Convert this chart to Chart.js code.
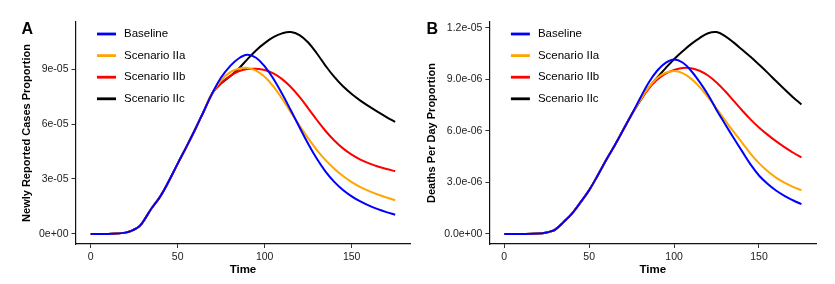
<!DOCTYPE html>
<html>
<head>
<meta charset="utf-8">
<script src="https://cdn.jsdelivr.net/npm/chart.js@4"></script>
<style>
  html, body { margin: 0; padding: 0; background: #fff; }
  #wrap { position: relative; width: 835px; height: 284px; }
  canvas { position: absolute; top: 0; }
  #cA { left: 0; }
  #cB { left: 415px; }
</style>
</head>
<body>
<div id="wrap">
  <canvas id="cA" width="415" height="284"></canvas>
  <canvas id="cB" width="420" height="284"></canvas>
</div>
<script>
const times = [0, 10, 20, 25, 28, 30, 35, 40, 45, 50, 55, 60, 65, 70, 75, 80, 85, 90, 95, 100,
               105, 110, 115, 120, 125, 130, 135, 140, 145, 150, 155, 160, 165, 170, 175];

// panel A: newly reported cases proportion, in units of 1e-5
const casesBaseline = [0, 0, 0.07, 0.24, 0.42, 0.65, 1.4, 2.05, 2.9, 3.84, 4.75, 5.7, 6.7, 7.7,
  8.55, 9.15, 9.58, 9.78, 9.62, 9.15, 8.47, 7.65, 6.75, 5.82, 4.92, 4.1, 3.4, 2.84, 2.4, 2.05, 1.77, 1.54, 1.35, 1.19, 1.05];
const casesIIa = [0, 0, 0.07, 0.24, 0.42, 0.65, 1.4, 2.05, 2.9, 3.84, 4.75, 5.7, 6.7, 7.7,
  8.4, 8.82, 9.02, 9.06, 8.92, 8.58, 8.05, 7.38, 6.65, 5.92, 5.22, 4.58, 4.03, 3.56, 3.16, 2.83, 2.56, 2.34, 2.15, 1.99, 1.84];
const casesIIb = [0, 0, 0.07, 0.24, 0.42, 0.65, 1.4, 2.05, 2.9, 3.84, 4.75, 5.7, 6.7, 7.7,
  8.25, 8.62, 8.88, 9.0, 9.02, 8.95, 8.76, 8.45, 8.02, 7.48, 6.86, 6.22, 5.62, 5.1, 4.67, 4.33, 4.06, 3.85, 3.68, 3.54, 3.43];
const casesIIc = [0, 0, 0.07, 0.24, 0.42, 0.65, 1.4, 2.05, 2.9, 3.84, 4.75, 5.7, 6.7, 7.7,
  8.22, 8.6, 9.02, 9.53, 10.02, 10.42, 10.74, 10.95, 11.02, 10.86, 10.45, 9.85, 9.18, 8.57, 8.06, 7.64, 7.28, 6.96, 6.66, 6.38, 6.12];

// panel B: deaths per day proportion, in units of 1e-6
const deathsBaseline = [0, 0, 0.02, 0.08, 0.17, 0.25, 0.7, 1.2, 1.85, 2.55, 3.4, 4.3, 5.15, 6.05, 6.95,
  7.9, 8.8, 9.5, 9.96, 10.15, 9.98, 9.5, 8.85, 8.1, 7.22, 6.4, 5.6, 4.82, 4.05, 3.4, 2.92, 2.53, 2.22, 1.96, 1.73];
const deathsIIa = [0, 0, 0.02, 0.08, 0.17, 0.25, 0.7, 1.2, 1.85, 2.55, 3.4, 4.3, 5.15, 6.05, 6.95,
  7.78, 8.52, 9.08, 9.38, 9.48, 9.36, 9.04, 8.56, 7.96, 7.3, 6.62, 5.95, 5.32, 4.68, 4.12, 3.66, 3.28, 2.98, 2.74, 2.55];
const deathsIIb = [0, 0, 0.02, 0.08, 0.17, 0.25, 0.7, 1.2, 1.85, 2.55, 3.4, 4.3, 5.15, 6.05, 6.95,
  7.75, 8.45, 8.98, 9.33, 9.55, 9.66, 9.65, 9.5, 9.22, 8.82, 8.32, 7.76, 7.2, 6.67, 6.2, 5.78, 5.4, 5.05, 4.74, 4.45];
const deathsIIc = [0, 0, 0.02, 0.08, 0.17, 0.25, 0.7, 1.2, 1.85, 2.55, 3.4, 4.3, 5.15, 6.05, 6.95,
  7.75, 8.5, 9.1, 9.65, 10.17, 10.63, 11.05, 11.4, 11.68, 11.75, 11.52, 11.15, 10.73, 10.31, 9.86, 9.39, 8.9, 8.42, 7.96, 7.54];

const seriesNames = ['Baseline', 'Scenario IIa', 'Scenario IIb', 'Scenario IIc'];
const seriesColors = ['#0000ff', '#ffa500', '#ff0000', '#000000'];

const xTicks = [0, 50, 100, 150];
const yTicksA = [0, 3e-5, 6e-5, 9e-5];
const yLabelsA = ['0e+00', '3e-05', '6e-05', '9e-05'];
const yTicksB = [0, 3e-6, 6e-6, 9e-6, 1.2e-5];
const yLabelsB = ['0.0e+00', '3.0e-06', '6.0e-06', '9.0e-06', '1.2e-05'];

const FONT = '"Liberation Sans", Arial, Helvetica, sans-serif';

// legend drawn inside the panel, plus the panel letter
const insideLegend = {
  id: 'insideLegend',
  afterDraw(chart, args, opts) {
    const ctx = chart.ctx, area = chart.chartArea;
    ctx.save();
    ctx.font = '11.5px ' + FONT;
    ctx.textBaseline = 'middle';
    chart.data.datasets.forEach((ds, i) => {
      const y = 34 + i * 21.6;
      const x0 = area.left + opts.offset;
      ctx.strokeStyle = ds.borderColor;
      ctx.lineWidth = 2.8;
      ctx.beginPath();
      ctx.moveTo(x0, y);
      ctx.lineTo(x0 + 19, y);
      ctx.stroke();
      ctx.fillStyle = '#000';
      ctx.fillText(ds.label, x0 + 27, y);
    });
    ctx.font = 'bold 16px ' + FONT;
    ctx.textBaseline = 'alphabetic';
    ctx.fillText(opts.letter, opts.letterX, 33.5);
    ctx.restore();
  }
};

function makeChart(id, seriesList, unit, yTicks, yLabels, yTitle, cfg) {
  const ymax = Math.max(...seriesList.flat()) * unit;
  const datasets = seriesList.map((arr, i) => ({
    label: seriesNames[i],
    data: times.map((t, j) => ({ x: t, y: arr[j] * unit })),
    borderColor: seriesColors[i],
    borderWidth: 2,
    pointRadius: 0,
    tension: 0.4,
    fill: false
  }));
  return new Chart(document.getElementById(id), {
    type: 'line',
    data: { datasets },
    plugins: [insideLegend],
    options: {
      responsive: false,
      animation: false,
      layout: { padding: { top: 22, right: cfg.padRight, left: 0, bottom: 0 } },
      plugins: {
        legend: { display: false },
        tooltip: { enabled: false },
        insideLegend: { offset: 21.5, letter: cfg.letter, letterX: cfg.letterX }
      },
      scales: {
        x: {
          type: 'linear',
          min: -8.75,
          max: 183.75,
          afterBuildTicks: s => { s.ticks = xTicks.map(v => ({ value: v })); },
          afterFit: s => { s.height = 40; },
          border: { display: true, color: '#111', width: 1.2 },
          grid: { drawOnChartArea: false, drawTicks: true, tickLength: 4, color: '#333' },
          ticks: { padding: 3, color: '#222', font: { family: FONT, size: 10.5 }, maxRotation: 0 },
          title: { display: true, text: 'Time', color: '#000',
                   font: { family: FONT, size: 11.5, weight: 'bold' }, padding: { top: 0, bottom: 7 } }
        },
        y: {
          type: 'linear',
          min: -0.05 * ymax,
          max: 1.05 * ymax,
          afterBuildTicks: s => { s.ticks = yTicks.map(v => ({ value: v })); },
          afterFit: s => { s.width = cfg.yWidth; },
          border: { display: true, color: '#111', width: 1.2 },
          grid: { drawOnChartArea: false, drawTicks: true, tickLength: 4, color: '#333' },
          ticks: {
            padding: 3, color: '#222', font: { family: FONT, size: 10.5 },
            callback: v => {
              const k = yTicks.findIndex(t => Math.abs(t - v) < 1e-9);
              return k >= 0 ? yLabels[k] : '';
            }
          },
          title: { display: true, text: yTitle, color: '#000',
                   font: { family: FONT, size: 11, weight: 'bold' }, padding: { top: cfg.titlePad, bottom: 0 } }
        }
      }
    }
  });
}

makeChart('cA', [casesBaseline, casesIIa, casesIIb, casesIIc], 1e-5, yTicksA, yLabelsA,
  'Newly Reported Cases Proportion', { padRight: 4.6, yWidth: 75.5, titlePad: 20, letter: 'A', letterX: 21.5 });
makeChart('cB', [deathsBaseline, deathsIIa, deathsIIb, deathsIIc], 1e-6, yTicksB, yLabelsB,
  'Deaths Per Day Proportion', { padRight: 18.7, yWidth: 74.4, titlePad: 10, letter: 'B', letterX: 11.5 });
</script>
</body>
</html>
